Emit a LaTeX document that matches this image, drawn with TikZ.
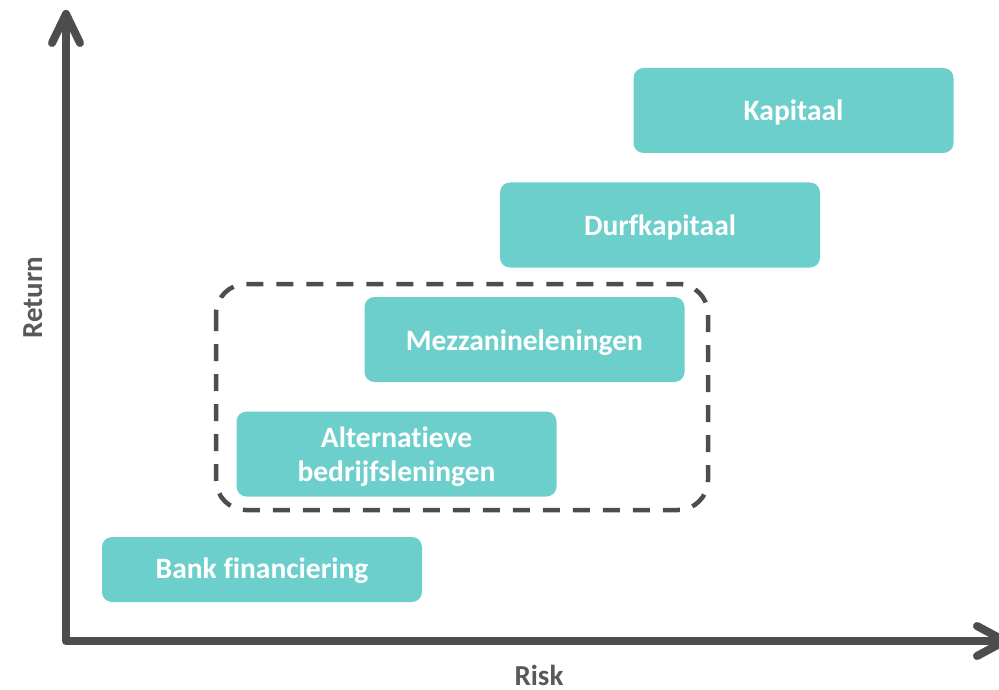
\documentclass[tikz,border=0pt]{standalone}
\usepackage{fontspec}
\usetikzlibrary{calc}
\setmainfont{Carlito}[Ligatures=NoCommon]
\definecolor{teal1}{HTML}{6DCFCC}
\definecolor{axisgray}{HTML}{4D4D4D}
\definecolor{labelgray}{HTML}{595959}
\begin{document}
\begin{tikzpicture}[x=1pt,y=-1pt,
  fbox/.style={fill=teal1, draw=none, rounded corners=10pt, inner sep=0pt,
    minimum width=320pt, minimum height=85pt, text=white,
    font=\fontsize{29.5}{34}\selectfont\bfseries, text height=21pt, text depth=0pt},
  axisline/.style={draw=axisgray, line width=8pt, line cap=round, line join=round},
  axlabel/.style={text=labelgray, font=\fontsize{29}{34}\selectfont\bfseries, inner sep=0pt, anchor=base},
  groupbox/.style={draw=axisgray, line width=4.5pt, dash pattern=on 17pt off 13pt, rounded corners=30pt}
]
\useasboundingbox (0,0) rectangle (999,690);
% axes
\coordinate (O) at (66,641);
\coordinate (Ytop) at (66,14);
\coordinate (Xend) at (1005,641);
\draw[axisline] (Ytop) -- (O) -- (Xend);
\draw[axisline] ($(Ytop)+(-14,29)$) -- (Ytop) -- ($(Ytop)+(14,29)$);
\draw[axisline] ($(Xend)+(-28,-15)$) -- (Xend) -- ($(Xend)+(-28,15)$);
\node[axlabel, rotate=90] (ret) at (42,297.5) {Return};
\node[axlabel] (risk) at (539,685) {Risk};
% group
\draw[groupbox] (216,284) rectangle (708,510);
% boxes
\node[fbox, minimum height=65pt, text height=18pt] (bank) at (262,569.5) {Bank financiering};
\node[fbox, text height=20pt, text depth=34pt] (alt) at (396.5,454)
  {\begin{tabular}[t]{@{}c@{}}Alternatieve\\bedrijfsleningen\end{tabular}};
\node[fbox] (mez) at (524.5,339.5) {Mezzanineleningen};
\node[fbox] (durf) at (660,225) {Durfkapitaal};
\node[fbox] (kap) at (793.5,110.5) {Kapitaal};
\end{tikzpicture}
\end{document}
